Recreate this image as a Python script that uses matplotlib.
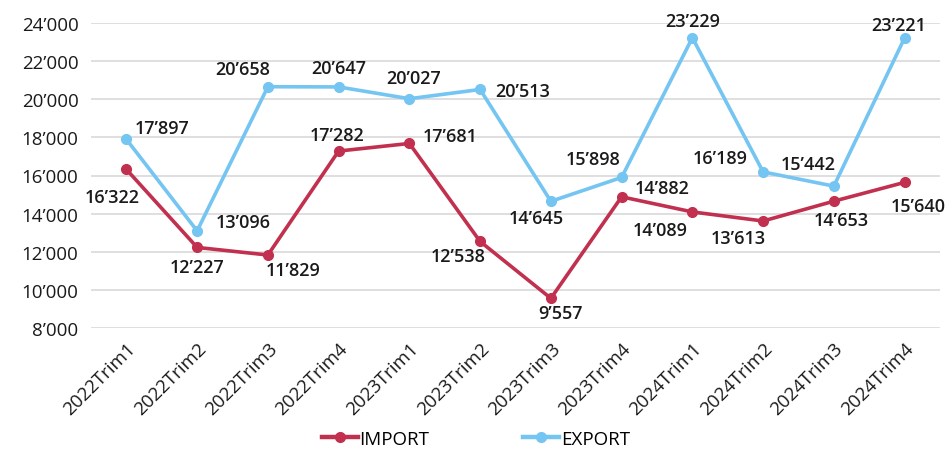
import matplotlib
matplotlib.use("Agg")
import matplotlib.pyplot as plt

categories = ["2022Trim1", "2022Trim2", "2022Trim3", "2022Trim4",
              "2023Trim1", "2023Trim2", "2023Trim3", "2023Trim4",
              "2024Trim1", "2024Trim2", "2024Trim3", "2024Trim4"]
import_vals = [16322, 12227, 11829, 17282, 17681, 12538, 9557, 14882, 14089, 13613, 14653, 15640]
export_vals = [17897, 13096, 20658, 20647, 20027, 20513, 14645, 15898, 23229, 16189, 15442, 23221]

# label offsets in pixels (dx, dy up)
import_offsets = [(-14, -28), (0, -20), (25, -15), (-2, 16), (41, 7), (-22, -15),
                  (10, -15), (41, 9), (-32, -18), (-25, -17), (7, -19), (14, -24)]
export_offsets = [(36, 11), (46, 9), (-25, 18), (0, 19), (4, 21), (43, -2),
                  (-15, -17), (-29, 18), (0, 17), (-43, 14), (-26, 22), (-6, 13)]

IMP_COLOR = "#C2304F"
EXP_COLOR = "#74C5F2"

plt.rcParams['font.family'] = ['Open Sans', 'DejaVu Sans']

def fmt(v):
    return f"{v:,}".replace(",", "\u2019")

fig = plt.figure(figsize=(9.52, 4.52), dpi=100)
ax = fig.add_axes([91/952, 1 - 329/452, (940-91)/952, (329-24)/452])

x = list(range(len(categories)))
ax.plot(x, import_vals, color=IMP_COLOR, lw=2.6, marker='o', ms=7, label="IMPORT", zorder=3)
ax.plot(x, export_vals, color=EXP_COLOR, lw=2.6, marker='o', ms=7, label="EXPORT", zorder=3)

for xi, v, (dx, dy) in zip(x, import_vals, import_offsets):
    ax.annotate(fmt(v), (xi, v), xytext=(dx, dy), textcoords='offset pixels',
                ha='center', va='center', fontsize=13, fontweight='semibold', color='#1a1a1a')
for xi, v, (dx, dy) in zip(x, export_vals, export_offsets):
    ax.annotate(fmt(v), (xi, v), xytext=(dx, dy), textcoords='offset pixels',
                ha='center', va='center', fontsize=13, fontweight='semibold', color='#1a1a1a')

ax.set_xlim(-0.5, len(categories) - 0.5)
ax.set_ylim(8000, 24000)
ax.set_yticks(range(8000, 24001, 2000))
ax.set_yticklabels([fmt(v) for v in range(8000, 24001, 2000)], fontsize=13.5, color='#1a1a1a')
ax.set_xticks(x)
ax.set_xticklabels(categories, rotation=45, ha='right', rotation_mode='anchor',
                   fontsize=13.5, color='#1a1a1a')
ax.tick_params(axis='both', length=0)
ax.tick_params(axis='y', pad=9)
ax.tick_params(axis='x', pad=8)
ax.grid(axis='y', color='#D9D9D9', lw=1.2)
ax.set_axisbelow(True)
for s in ax.spines.values():
    s.set_visible(False)

leg = fig.legend(loc='center', bbox_to_anchor=(476/952, 1 - 440/452), ncol=2, frameon=False,
                 fontsize=13.5, handlelength=1.9, columnspacing=5.0, handletextpad=0.1)
for h in leg.get_lines():
    h.set_linewidth(3.2)

fig.savefig("out.png", dpi=100)
